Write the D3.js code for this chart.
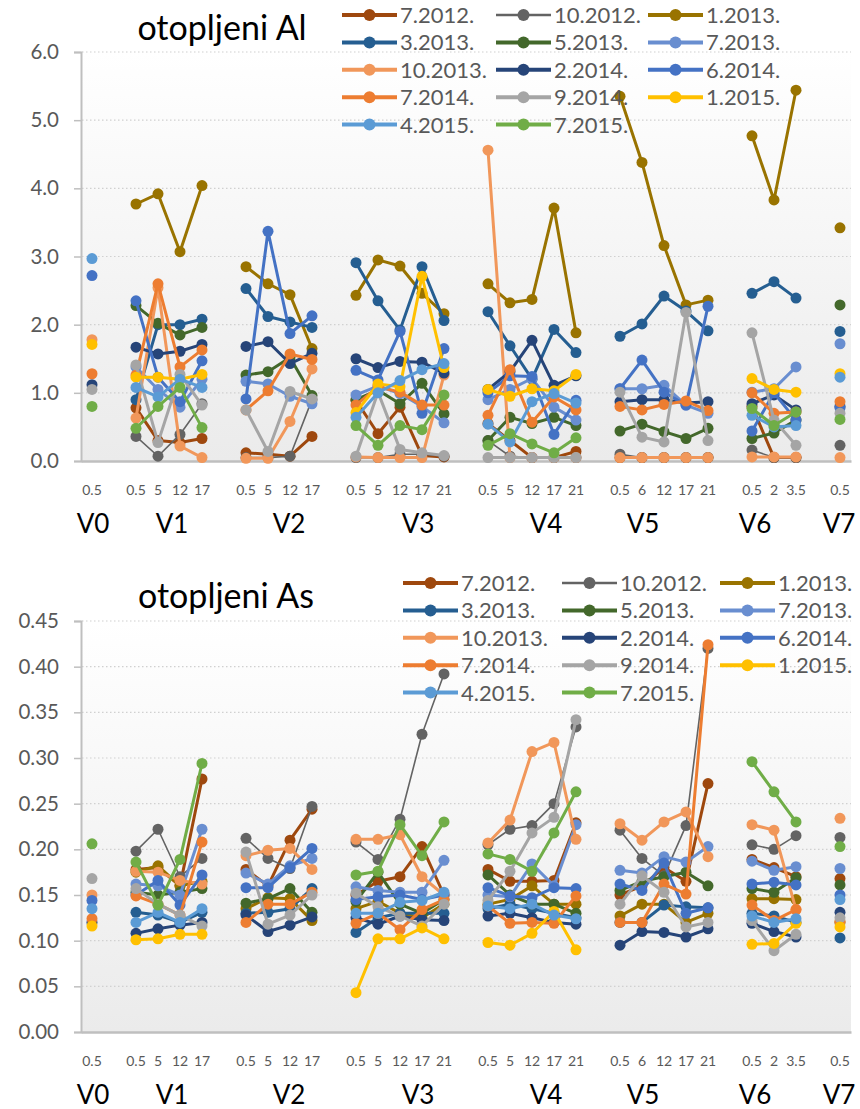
<!DOCTYPE html>
<html><head><meta charset="utf-8">
<script src="https://cdn.jsdelivr.net/npm/d3@7"></script>
<style>body{margin:0;background:#fff}</style>
</head><body>
<svg id="chart" width="860" height="1109"></svg>
<script>
const n = null;
// ---------- categories ----------
const depthLabels = ["0.5","", "0.5","5","12","17","", "0.5","5","12","17","",
  "0.5","5","12","17","21","", "0.5","5","12","17","21","",
  "0.5","6","12","17","21","", "0.5","2","3.5","", "0.5"];
const groupNames = ["V0","V1","V2","V3","V4","V5","V6","V7"];
const groupStarts = [0,2,7,12,18,24,30,34];
const groupSizes  = [1,4,4,5,5,5,3,1];
const seriesNames = ["7.2012.","10.2012.","1.2013.","3.2013.","5.2013.","7.2013.","10.2013.",
  "2.2014.","6.2014.","7.2014.","9.2014.","1.2015.","4.2015.","7.2015."];
const alTicks = [0,1,2,3,4,5,6];
const asTicks = [0,0.05,0.10,0.15,0.20,0.25,0.30,0.35,0.40,0.45];

// ---------- otopljeni Al ----------
//            V0  _  V1                     _  V2                     _  V3                          _  V4                          _  V5                          _  V6              _  V7
const al_2012_07 = [n,n, 0.78,0.30,0.27,0.33, n, 0.12,0.10,0.07,0.36, n, 0.89,0.40,0.79,0.08,0.06, n, 0.55,0.30,0.05,0.05,0.14, n, 0.05,0.05,0.05,0.05,0.05, n, 0.80,0.05,0.05, n, n];
const al_2012_10 = [n,n, 0.36,0.07,0.39,0.84, n, 0.05,0.05,0.07,0.90, n, 0.05,0.05,0.10,0.10,0.07, n, 0.30,0.07,0.05,0.05,0.05, n, 0.10,0.05,0.05,0.05,0.05, n, 0.16,0.05,0.05, n, 0.23];
const al_2013_01 = [n,n, 3.77,3.92,3.07,4.04, n, 2.85,2.60,2.44,1.65, n, 2.43,2.95,2.86,2.46,2.16, n, 2.60,2.32,2.37,3.71,1.88, n, 5.35,4.38,3.16,2.29,2.36, n, 4.77,3.83,5.44, n, 3.42];
const al_2013_03 = [n,n, 0.90,2.00,2.00,2.08, n, 2.53,2.12,2.04,1.96, n, 2.91,2.35,1.92,2.85,2.06, n, 2.19,1.69,1.20,1.93,1.59, n, 1.83,2.01,2.42,2.20,1.91, n, 2.46,2.63,2.39, n, 1.90];
const al_2013_05 = [n,n, 2.28,2.02,1.85,1.96, n, 1.26,1.31,1.52,0.96, n, 0.90,1.04,0.84,1.14,0.69, n, 0.30,0.64,0.55,0.64,0.52, n, 0.44,0.54,0.43,0.33,0.48, n, 0.33,0.41,0.60, n, 2.29];
const al_2013_07 = [n,n, 1.38,1.05,0.79,1.20, n, 1.17,1.13,0.95,0.84, n, 0.97,1.10,0.99,0.80,0.56, n, 0.90,1.05,1.21,0.79,0.60, n, 1.06,1.06,1.11,0.82,0.70, n, 1.01,1.06,1.38, n, 1.72];
const al_2013_10 = [1.78,n, 0.63,2.54,0.22,0.05, n, 0.04,0.04,0.58,1.35, n, 0.06,0.05,0.05,0.05,1.26, n, 4.56,0.05,0.05,0.05,0.05, n, 0.05,0.05,0.05,0.05,0.05, n, 0.06,0.06,0.06, n, 0.05];
const al_2014_02 = [1.12,n, 1.67,1.57,1.61,1.71, n, 1.68,1.75,1.43,1.58, n, 1.50,1.37,1.46,1.45,1.29, n, 1.05,1.31,1.77,1.11,1.25, n, 0.87,0.90,0.90,0.85,0.87, n, 0.84,0.97,0.75, n, 0.80];
const al_2014_06 = [2.72,n, 2.35,1.23,0.87,1.47, n, 0.91,3.37,1.87,2.13, n, 1.33,1.19,1.90,0.70,1.65, n, 1.00,1.25,1.24,0.39,0.89, n, 1.06,1.48,1.01,0.82,2.27, n, 0.44,1.00,0.60, n, 0.78];
const al_2014_07 = [1.28,n, 1.26,2.60,1.38,1.63, n, 0.75,1.03,1.57,1.49, n, 0.82,1.09,1.01,0.82,0.82, n, 0.67,1.34,0.57,0.94,0.75, n, 0.80,0.75,0.83,0.88,0.74, n, 1.00,0.70,0.72, n, 0.87];
const al_2014_09 = [1.05,n, 1.41,0.27,1.27,0.82, n, 0.75,0.14,1.02,0.91, n, 0.07,1.01,0.17,0.12,0.08, n, 0.05,0.05,0.05,0.05,0.05, n, 1.01,0.35,0.28,2.18,0.30, n, 1.88,0.60,0.23, n, 0.70];
const al_2015_01 = [1.71,n, 1.23,1.23,1.20,1.27, n, n,n,n,n, n, 0.71,1.13,1.09,2.71,1.37, n, 1.05,0.95,1.06,1.03,1.27, n, n,n,n,n,n, n, 1.21,1.05,1.01, n, 1.28];
const al_2015_04 = [2.97,n, 1.08,0.94,1.20,1.08, n, n,n,n,n, n, 0.64,1.00,1.18,1.34,1.43, n, 0.54,0.28,0.87,0.99,0.85, n, n,n,n,n,n, n, 0.67,0.50,0.52, n, 1.23];
const al_2015_07 = [0.80,n, 0.48,0.80,1.08,0.49, n, n,n,n,n, n, 0.52,0.23,0.52,0.46,0.97, n, 0.23,0.40,0.25,0.12,0.34, n, n,n,n,n,n, n, 0.77,0.52,0.72, n, 0.61];

// ---------- otopljeni As ----------
const as_2012_07 = [n,n, 0.178,0.180,0.160,0.277, n, 0.178,0.160,0.210,0.244, n, 0.150,0.165,0.170,0.203,0.150, n, 0.178,0.165,0.165,0.166,0.229, n, 0.150,0.160,0.180,0.165,0.272, n, 0.189,0.180,0.170, n, 0.168];
const as_2012_10 = [n,n, 0.198,0.222,0.170,0.190, n, 0.212,0.190,0.179,0.247, n, 0.208,0.189,0.233,0.326,0.392, n, 0.205,0.222,0.226,0.250,0.334, n, 0.221,0.190,0.171,0.226,0.420, n, 0.205,0.200,0.215, n, 0.213];
const as_2013_01 = [n,n, 0.175,0.182,0.160,0.165, n, 0.135,0.147,0.146,0.122, n, 0.135,0.143,0.130,0.125,0.140, n, 0.140,0.145,0.160,0.140,0.140, n, 0.127,0.140,0.140,0.120,0.130, n, 0.146,0.146,0.145, n, 0.120];
const as_2013_03 = [n,n, 0.131,0.128,0.120,0.131, n, 0.130,0.131,0.135,0.157, n, 0.109,0.125,0.130,0.130,0.130, n, 0.135,0.140,0.135,0.130,0.125, n, 0.120,0.120,0.139,0.137,0.136, n, 0.130,0.127,0.120, n, 0.103];
const as_2013_05 = [n,n, 0.153,0.150,0.153,0.157, n, 0.141,0.146,0.157,0.131, n, 0.143,0.175,0.140,0.130,0.145, n, 0.172,0.150,0.140,0.140,0.130, n, 0.155,0.165,0.170,0.175,0.160, n, 0.157,0.153,0.169, n, 0.161];
const as_2013_07 = [n,n, 0.162,0.160,0.150,0.222, n, 0.174,0.162,0.182,0.190, n, 0.159,0.155,0.153,0.153,0.188, n, 0.150,0.148,0.184,0.160,0.227, n, 0.177,0.174,0.192,0.186,0.203, n, 0.187,0.177,0.181, n, 0.179];
const as_2013_10 = [0.150,n, 0.176,0.175,0.166,0.162, n, 0.193,0.199,0.201,0.178, n, 0.211,0.211,0.216,0.170,0.150, n, 0.207,0.232,0.307,0.317,0.211, n, 0.228,0.210,0.230,0.241,0.192, n, 0.227,0.221,0.134, n, 0.234];
const as_2014_02 = [0.120,n, 0.108,0.113,0.117,0.120, n, 0.128,0.110,0.117,0.126, n, 0.125,0.118,0.127,0.123,0.122, n, 0.127,0.130,0.125,0.120,0.118, n, 0.095,0.110,0.109,0.104,0.113, n, 0.119,0.110,0.104, n, 0.131];
const as_2014_06 = [0.144,n, 0.150,0.166,0.139,0.172, n, 0.158,0.158,0.180,0.201, n, 0.145,0.148,0.150,0.145,0.150, n, 0.158,0.149,0.147,0.158,0.157, n, 0.162,0.155,0.185,0.130,0.136, n, 0.162,0.164,0.161, n, 0.150];
const as_2014_07 = [0.124,n, 0.149,0.140,0.128,0.208, n, 0.120,0.140,0.140,0.153, n, 0.119,0.130,0.112,0.134,0.145, n, 0.138,0.119,0.120,0.119,0.149, n, 0.120,0.120,0.162,0.151,0.424, n, 0.139,0.122,0.134, n, 0.121];
const as_2014_09 = [0.168,n, 0.157,0.140,0.128,0.116, n, 0.197,0.118,0.128,0.150, n, 0.152,0.137,0.127,0.116,0.140, n, 0.144,0.176,0.218,0.235,0.342, n, 0.140,0.171,0.153,0.115,0.120, n, 0.122,0.089,0.107, n, 0.125];
const as_2015_01 = [0.116,n, 0.101,0.102,0.107,0.107, n, n,n,n,n, n, 0.043,0.102,0.102,0.114,0.102, n, 0.098,0.095,0.108,0.132,0.090, n, n,n,n,n,n, n, 0.096,0.097,0.119, n, 0.115];
const as_2015_04 = [0.135,n, 0.120,0.131,0.120,0.135, n, n,n,n,n, n, 0.130,0.130,0.142,0.144,0.153, n, 0.138,0.135,0.140,0.128,0.124, n, n,n,n,n,n, n, 0.127,0.120,0.124, n, 0.145];
const as_2015_07 = [0.206,n, 0.186,0.139,0.189,0.294, n, n,n,n,n, n, 0.172,0.176,0.227,0.193,0.230, n, 0.195,0.189,0.176,0.218,0.263, n, n,n,n,n,n, n, 0.296,0.263,0.230, n, 0.203];

// ---------- styles ----------
const seriesColors = ["#9E480E","#636363","#997300","#255E91","#43682B","#698ED0","#F1975A",
  "#264478","#4472C4","#ED7D31","#A5A5A5","#FFC000","#5B9BD5","#70AD47"];
const seriesWidths = [3,1.6,3,3,3,3,3,3,3,3,3,3,3,3];
const FONT = "Lato, 'Open Sans', sans-serif";

const alSeries = [al_2012_07,al_2012_10,al_2013_01,al_2013_03,al_2013_05,al_2013_07,al_2013_10,
  al_2014_02,al_2014_06,al_2014_07,al_2014_09,al_2015_01,al_2015_04,al_2015_07];
const asSeries = [as_2012_07,as_2012_10,as_2013_01,as_2013_03,as_2013_05,as_2013_07,as_2013_10,
  as_2014_02,as_2014_06,as_2014_07,as_2014_09,as_2015_01,as_2015_04,as_2015_07];

const svg = d3.select("#chart");
const defs = svg.append("defs");
const grad = defs.append("linearGradient").attr("id","bg").attr("x1",0).attr("y1",0).attr("x2",0).attr("y2",1);
grad.append("stop").attr("offset","0%").attr("stop-color","#ffffff");
grad.append("stop").attr("offset","100%").attr("stop-color","#ebebeb");

const x = d3.scaleBand().domain(d3.range(depthLabels.length)).range([81, 851]);
const cx = i => x(i) + x.bandwidth()/2;
const groupLabelShift = [1,3,10,18,14,-21,-19,-1];

function panel(cfg) {
  const g = svg.append("g");
  const y = d3.scaleLinear().domain(cfg.domain).range([cfg.bottom, cfg.top]);
  g.append("rect").attr("x",82).attr("y",cfg.top).attr("width",851-82).attr("height",cfg.bottom-cfg.top)
    .attr("fill","url(#bg)");
  // gridlines
  g.append("g").selectAll("line").data(cfg.ticks.filter(t => t > 0)).join("line")
    .attr("x1",82).attr("x2",851).attr("y1",d=>y(d)).attr("y2",d=>y(d))
    .attr("stroke","#d0d0d0").attr("stroke-width",1.2).attr("stroke-dasharray","1.5,2.5");
  // title
  g.append("text").attr("x",cfg.titleX).attr("y",cfg.titleY).attr("text-anchor","middle")
    .attr("font-family",FONT).attr("font-size",34).attr("fill","#000").text(cfg.title);
  // y axis
  const ya = g.append("g").attr("transform","translate(81,0)")
    .call(d3.axisLeft(y).tickValues(cfg.ticks).tickFormat(d3.format(cfg.fmt)).tickSize(7).tickPadding(15));
  ya.select(".domain").attr("stroke","#bfbfbf").attr("stroke-width",2);
  ya.selectAll(".tick line").attr("stroke","#bfbfbf").attr("stroke-width",1.5);
  ya.selectAll(".tick text").attr("font-family",FONT).attr("font-size",20.5).attr("fill","#595959");
  // x axis
  const xa = g.append("g").attr("transform",`translate(0,${cfg.bottom})`)
    .call(d3.axisBottom(x).tickFormat(i => depthLabels[i]).tickSize(0).tickPadding(24));
  xa.select(".domain").attr("stroke","#bfbfbf").attr("stroke-width",2.5);
  xa.selectAll(".tick text").attr("font-family",FONT).attr("font-size",14).attr("fill","#595959");
  // group labels
  g.append("g").selectAll("text").data(groupNames).join("text")
    .attr("x",(d,i)=> (cx(groupStarts[i]) + cx(groupStarts[i]+groupSizes[i]-1))/2 + groupLabelShift[i])
    .attr("y",cfg.bottom + 72).attr("text-anchor","middle")
    .attr("font-family",FONT).attr("font-size",26).attr("fill","#000").text(d=>d);
  // series
  const line = d3.line().defined(d => d != null).x((d,i)=>cx(i)).y(d=>y(d));
  cfg.series.forEach((vals, s) => {
    const sg = g.append("g");
    sg.append("path").attr("d", line(vals)).attr("fill","none")
      .attr("stroke", seriesColors[s]).attr("stroke-width", seriesWidths[s]).attr("stroke-linejoin","round");
    sg.selectAll("circle").data(vals.map((v,i)=>({v,i})).filter(d=>d.v!=null)).join("circle")
      .attr("cx",d=>cx(d.i)).attr("cy",d=>y(d.v)).attr("r",5.5).attr("fill",seriesColors[s]);
  });
  // legend
  const lg = g.append("g");
  seriesNames.forEach((name, s) => {
    const col = s % 3, row = Math.floor(s / 3);
    const lx = cfg.legX[col], ly = cfg.legY + row * 27.4;
    lg.append("line").attr("x1",lx).attr("x2",lx+55).attr("y1",ly).attr("y2",ly)
      .attr("stroke",seriesColors[s]).attr("stroke-width",seriesWidths[s]+1);
    lg.append("circle").attr("cx",lx+27.5).attr("cy",ly).attr("r",6).attr("fill",seriesColors[s]);
    lg.append("text").attr("x",lx+58).attr("y",ly).attr("dy","0.36em")
      .attr("font-family",FONT).attr("font-size",22).attr("fill","#595959").text(name);
  });
}

panel({title:"otopljeni Al", titleX:222, titleY:40, domain:[0,6], ticks:alTicks, fmt:".1f",
  top:52, bottom:461, series:alSeries, legX:[342,496,648], legY:15});
panel({title:"otopljeni As", titleX:226, titleY:608, domain:[0,0.45], ticks:asTicks, fmt:".2f",
  top:621, bottom:1032, series:asSeries, legX:[403,562,720], legY:583});
</script>
</body></html>
